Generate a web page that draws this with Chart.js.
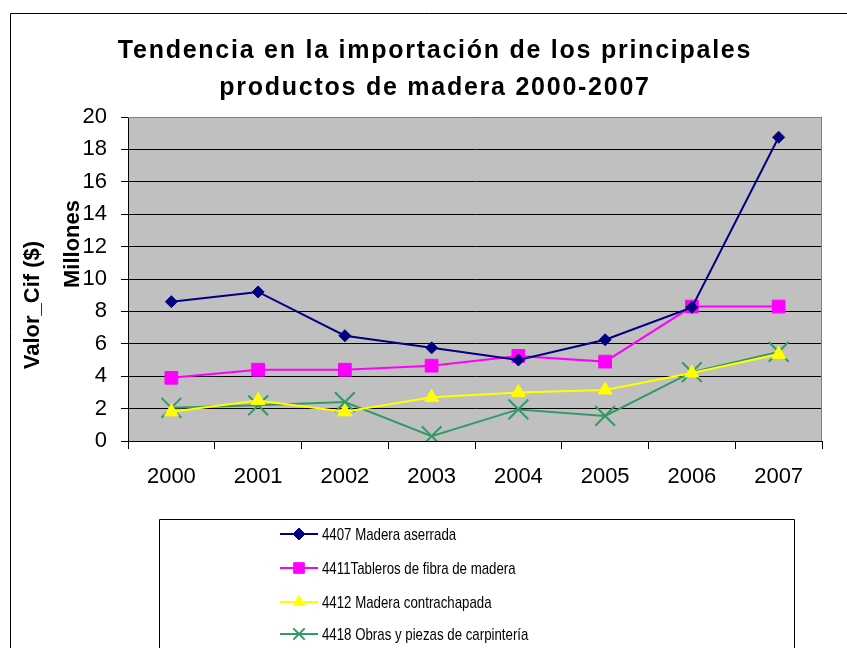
<!DOCTYPE html>
<html>
<head>
<meta charset="utf-8">
<script src="https://cdn.jsdelivr.net/npm/chart.js@4/dist/chart.umd.min.js"></script>
<style>
  html, body { margin: 0; padding: 0; background: #fff; }
  #wrap { width: 847px; height: 648px; }
</style>
</head>
<body>
<div id="wrap"><canvas id="chart" width="847" height="648"></canvas></div>
<script>
// data (millions)
var years = ["2000", "2001", "2002", "2003", "2004", "2005", "2006", "2007"];
var maderaAserrada = [8.6, 9.2, 6.5, 5.75, 5.0, 6.25, 8.25, 18.75];
var tablerosFibra = [3.9, 4.4, 4.4, 4.65, 5.25, 4.9, 8.3, 8.3];
var contrachapada = [1.8, 2.5, 1.8, 2.7, 3.0, 3.15, 4.2, 5.35];
var carpinteria = [2.05, 2.2, 2.4, 0.3, 1.95, 1.55, 4.25, 5.5];
var seriesNames = [
  "4407 Madera aserrada",
  "4411Tableros de fibra de madera",
  "4412 Madera contrachapada",
  "4418 Obras y piezas de carpintería"
];
var yMin = 0, yMax = 20, yStep = 2;
var titleLines = ["Tendencia en la importación de los principales", "productos de madera 2000-2007"];

var FONT = '"Liberation Sans", Arial, sans-serif';

var decor = {
  id: 'decor',
  beforeDraw: function(chart) {
    var ctx = chart.ctx, a = chart.chartArea;
    ctx.save();
    ctx.fillStyle = '#fff';
    ctx.fillRect(0, 0, chart.width, chart.height);
    // outer frame
    ctx.strokeStyle = '#000';
    ctx.lineWidth = 1;
    ctx.beginPath();
    ctx.moveTo(10.5, chart.height + 2);
    ctx.lineTo(10.5, 13.5);
    ctx.lineTo(chart.width + 2, 13.5);
    ctx.stroke();
    // plot background
    ctx.fillStyle = '#c0c0c0';
    ctx.fillRect(a.left, a.top, a.right - a.left, a.bottom - a.top);
    ctx.restore();
  },
  beforeDatasetsDraw: function(chart) {
    var ctx = chart.ctx, a = chart.chartArea;
    ctx.save();
    ctx.strokeStyle = '#808080';
    ctx.lineWidth = 1;
    ctx.beginPath();
    ctx.moveTo(a.left, a.top + 0.5);
    ctx.lineTo(a.right - 0.5, a.top + 0.5);
    ctx.lineTo(a.right - 0.5, a.bottom);
    ctx.stroke();
    ctx.restore();
  },
  afterDraw: function(chart) {
    var ctx = chart.ctx;
    ctx.save();
    // title
    ctx.fillStyle = '#000';
    ctx.font = 'bold 25px ' + FONT;
    ctx.textAlign = 'center';
    ctx.textBaseline = 'alphabetic';
    if ('letterSpacing' in ctx) ctx.letterSpacing = '1.75px';
    ctx.fillText(titleLines[0], 435, 58);
    ctx.fillText(titleLines[1], 435, 95);
    if ('letterSpacing' in ctx) ctx.letterSpacing = '0px';

    // y axis titles
    ctx.font = 'bold 22px ' + FONT;
    ctx.textBaseline = 'middle';
    ctx.save();
    ctx.translate(33, 305);
    ctx.rotate(-Math.PI / 2);
    ctx.fillText('Valor_Cif ($)', 0, 0);
    ctx.restore();
    ctx.save();
    ctx.translate(73, 244);
    ctx.rotate(-Math.PI / 2);
    ctx.fillText('Millones', 0, 0);
    ctx.restore();

    // legend box
    ctx.strokeStyle = '#000';
    ctx.lineWidth = 1;
    ctx.beginPath();
    ctx.moveTo(159.5, chart.height + 2);
    ctx.lineTo(159.5, 519.5);
    ctx.lineTo(794.5, 519.5);
    ctx.lineTo(794.5, chart.height + 2);
    ctx.stroke();

    var rows = [534, 568, 602, 634];
    var legendRadius = [6, 7.5, 6.5, 8];
    chart.data.datasets.forEach(function(ds, i) {
      var y = rows[i];
      ctx.strokeStyle = ds.borderColor;
      ctx.lineWidth = 2;
      ctx.beginPath();
      ctx.moveTo(280, y);
      ctx.lineTo(318, y);
      ctx.stroke();
      ctx.fillStyle = ds.pointBackgroundColor;
      ctx.strokeStyle = ds.pointBorderColor;
      ctx.lineWidth = ds.pointBorderWidth;
      Chart.helpers.drawPoint(ctx, {
        pointStyle: ds.pointStyle,
        radius: legendRadius[i],
        rotation: 0,
        borderWidth: ds.pointBorderWidth
      }, 299, y);
      ctx.save();
      ctx.translate(322, y);
      ctx.scale(0.78, 1);
      ctx.fillStyle = '#000';
      ctx.font = '17px ' + FONT;
      ctx.textAlign = 'left';
      ctx.textBaseline = 'middle';
      ctx.fillText(ds.label, 0, 1);
      ctx.restore();
    });
    ctx.restore();
  }
};

var yTicks = [];
for (var v = yMin; v <= yMax; v += yStep) yTicks.push(v);

var ctx = document.getElementById('chart').getContext('2d');
new Chart(ctx, {
  type: 'line',
  data: {
    labels: years,
    datasets: [
      {
        label: seriesNames[0],
        data: maderaAserrada,
        borderColor: '#000080',
        borderWidth: 2,
        pointStyle: 'rectRot',
        pointRadius: 6,
        pointBackgroundColor: '#000080',
        pointBorderColor: '#000080',
        pointBorderWidth: 1,
        tension: 0
      },
      {
        label: seriesNames[1],
        data: tablerosFibra,
        borderColor: '#ff00ff',
        borderWidth: 2,
        pointStyle: 'rect',
        pointRadius: 9,
        pointBackgroundColor: '#ff00ff',
        pointBorderColor: '#ff00ff',
        pointBorderWidth: 1,
        tension: 0
      },
      {
        label: seriesNames[2],
        data: contrachapada,
        borderColor: '#ffff00',
        borderWidth: 2,
        pointStyle: 'triangle',
        pointRadius: 8,
        pointBackgroundColor: '#ffff00',
        pointBorderColor: '#ffff00',
        pointBorderWidth: 1,
        tension: 0
      },
      {
        label: seriesNames[3],
        data: carpinteria,
        borderColor: '#339966',
        borderWidth: 2,
        pointStyle: 'crossRot',
        pointRadius: 14,
        pointBackgroundColor: '#339966',
        pointBorderColor: '#339966',
        pointBorderWidth: 2,
        tension: 0
      }
    ]
  },
  options: {
    responsive: false,
    animation: false,
    devicePixelRatio: 1,
    layout: { padding: { top: 117, right: 25, bottom: 0, left: 0 } },
    plugins: {
      legend: { display: false },
      title: { display: false },
      tooltip: { enabled: false }
    },
    scales: {
      x: {
        offset: true,
        grid: {
          display: true,
          offset: true,
          drawOnChartArea: false,
          drawTicks: true,
          tickLength: 8,
          color: '#000'
        },
        border: { display: true, color: '#000', width: 1 },
        ticks: { color: '#000', font: { family: FONT, size: 22 }, padding: 15, maxRotation: 0 },
        afterFit: function(s) { s.height = 207; }
      },
      y: {
        min: yMin,
        max: yMax,
        afterBuildTicks: function(s) { s.ticks = yTicks.map(function(t) { return { value: t }; }); },
        grid: { color: '#000', lineWidth: 1, tickLength: 7, drawTicks: true },
        border: { display: true, color: '#000', width: 1 },
        ticks: { color: '#000', font: { family: FONT, size: 22 }, padding: 14 },
        afterFit: function(s) { s.width = 128; }
      }
    }
  },
  plugins: [decor]
});
</script>
</body>
</html>
